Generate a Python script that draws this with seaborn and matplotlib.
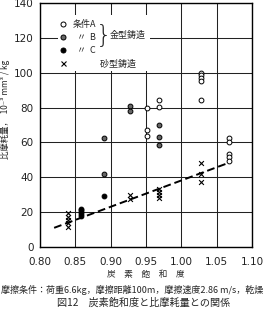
import matplotlib
matplotlib.use("Agg")
import matplotlib.pyplot as plt
import numpy as np
import pandas as pd
import seaborn as sns
from matplotlib.lines import Line2D
from matplotlib.patches import Rectangle

# carbon saturation (x) vs specific wear (y)
a_x = [0.951, 0.951, 0.951, 0.969, 0.969,
       1.028, 1.028, 1.028, 1.028, 1.028,
       1.068, 1.068, 1.068, 1.068, 1.068]
a_y = [79.8, 66.9, 63.6, 84.4, 80.2,
       100.0, 98.5, 97.0, 95.5, 84.5,
       62.3, 60.0, 53.5, 51.5, 49.5]

b_x = [0.890, 0.890, 0.928, 0.928, 0.969, 0.969, 0.969]
b_y = [62.5, 42.1, 81.0, 78.0, 70.0, 63.4, 58.7]

c_x = [0.858, 0.858, 0.858, 0.858, 0.858, 0.890]
c_y = [22.0, 21.0, 20.0, 19.0, 18.0, 29.1]

s_x = [0.840, 0.840, 0.840, 0.840, 0.840,
       0.928, 0.928,
       0.969, 0.969, 0.969, 0.969,
       1.028, 1.028, 1.028]
s_y = [19.5, 17.5, 15.5, 13.5, 11.5,
       30.0, 27.5,
       33.0, 31.3, 29.7, 28.0,
       48.0, 42.0, 37.3]

fit_x = [0.82, 1.065]
fit_y = [11.0, 48.0]

x_ticks = [0.80, 0.85, 0.90, 0.95, 1.00, 1.05, 1.10]
x_ticklabels = ["0.80", "0.85", "0.90", "0.95", "1.00", "1.05", "1.10"]
y_ticks = [0, 20, 40, 60, 80, 100, 120, 140]

cjk = ["Noto Sans CJK JP", "DejaVu Sans"]

sns.set_style("white")
plt.rcParams["font.family"] = ["DejaVu Sans"]

fig = plt.figure(figsize=(2.63, 3.17), dpi=100)
ax = fig.add_axes([40 / 263, 1 - 247 / 317, 212 / 263, 244 / 317])

ax.set_axisbelow(True)
ax.grid(True, color="#222222", lw=0.75)

# white patch behind the key hides the grid there
ax.add_patch(Rectangle((0.085, 0.721), 0.434, 0.230, transform=ax.transAxes,
                       fc="white", ec="none", zorder=1.5))

sns.lineplot(x=fit_x, y=fit_y, ax=ax, color="black", lw=1.4,
             dashes=False, zorder=2).lines[0].set_dashes([4.0, 2.0])

sns.scatterplot(x=a_x, y=a_y, ax=ax, marker="o", color="white",
                edgecolor="black", linewidth=0.7, s=12, zorder=3)
sns.scatterplot(x=b_x, y=b_y, ax=ax, marker="o", color="#666666",
                edgecolor="black", linewidth=0.7, s=12, zorder=3)
sns.scatterplot(x=c_x, y=c_y, ax=ax, marker="o", color="black",
                edgecolor="black", linewidth=0.7, s=12, zorder=3)
sns.scatterplot(x=s_x, y=s_y, ax=ax, marker="x", color="black",
                linewidth=0.8, s=12, zorder=3)

ax.set_xlim(0.80, 1.10)
ax.set_ylim(0, 140)
ax.set_xticks(x_ticks)
ax.set_xticklabels(x_ticklabels)
ax.set_yticks(y_ticks)
ax.tick_params(length=0, labelsize=7.5, colors="#222222")
ax.tick_params(axis="x", pad=7)
ax.tick_params(axis="y", pad=4.5)
for sp in ax.spines.values():
    sp.set_color("black")
    sp.set_linewidth(1.0)

ax.set_xlabel("炭　素　飽　和　度", family=cjk, fontsize=6.2)
ax.xaxis.set_label_coords(0.5, -0.094)
ax.set_ylabel("比摩耗量，  10⁻³ mm³ / kg", family=cjk, fontsize=6.0)
ax.yaxis.set_label_coords(-0.142, 0.566)

handles = [
    Line2D([], [], ls="", marker="o", mfc="white", mec="black", mew=0.7, ms=3.6),
    Line2D([], [], ls="", marker="o", mfc="#666666", mec="black", mew=0.7, ms=3.6),
    Line2D([], [], ls="", marker="o", mfc="black", mec="black", mew=0.7, ms=3.6),
    Line2D([], [], ls="", marker="x", color="black", mew=0.8, ms=3.6),
]
labels = ["条件A", "  〃  B", "  〃  C", "　　　砂型鋳造"]
ax.legend(handles, labels, loc="upper left", bbox_to_anchor=(0.06, 0.955),
          frameon=False, prop={"family": cjk, "size": 6.5},
          handlelength=0.8, handletextpad=0.75, labelspacing=0.45,
          borderpad=0.2)

ax.text(0.302, 0.866, "}", transform=ax.transAxes, fontsize=18,
        ha="center", va="center", fontweight="light", color="#222222")
ax.text(0.33, 0.869, "金型鋳造", transform=ax.transAxes, family=cjk,
        fontsize=6.5, ha="left", va="center")

fig.text(0.002, 1 - 290 / 317,
         "摩擦条件：荷重6.6kg，摩擦距離100m，摩擦速度2.86 m/s，乾燥",
         family=cjk, fontsize=6.5, ha="left", va="center")
fig.text(0.548, 1 - 303 / 317, "図12　炭素飽和度と比摩耗量との関係",
         family=cjk, fontsize=7.3, ha="center", va="center")

fig.savefig("out.png", dpi=100)
